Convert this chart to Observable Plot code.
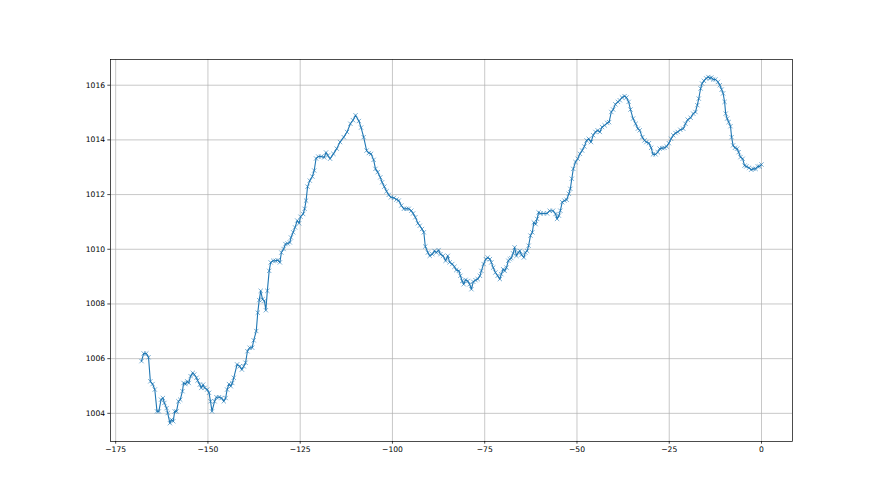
<!DOCTYPE html>
<html>
<head>
<meta charset="utf-8">
<script src="https://cdn.jsdelivr.net/npm/d3@7"></script>
<script src="https://cdn.jsdelivr.net/npm/@observablehq/plot@0.6"></script>
<style>
  html, body { margin: 0; padding: 0; background: white; }
</style>
</head>
<body>
<div id="chart"></div>
<script>
const hours = [
  -168.0,-167.4,-166.7,-166.1,-165.6,-165.0,-164.4,-163.8,-163.3,-162.7,
  -162.2,-161.8,-161.2,-160.9,-160.3,-159.9,-159.4,-159.0,-158.5,-158.0,
  -157.5,-156.9,-156.6,-156.1,-155.6,-155.2,-154.7,-154.1,-153.7,-153.1,
  -152.8,-152.2,-151.8,-151.3,-150.9,-150.2,-149.7,-149.3,-148.9,-148.2,
  -147.7,-147.0,-146.3,-145.7,-145.2,-144.8,-144.3,-143.8,-143.4,-143.0,
  -142.1,-141.4,-140.8,-140.3,-139.8,-139.3,-138.7,-138.0,-137.6,-136.9,
  -136.5,-136.1,-135.7,-135.2,-134.7,-134.3,-133.9,-133.4,-133.0,-132.3,
  -131.7,-131.1,-130.5,-130.1,-129.5,-129.0,-128.4,-127.8,-127.5,-126.9,
  -126.4,-125.8,-125.3,-124.9,-124.2,-123.8,-123.4,-123.0,-122.4,-121.7,
  -121.2,-120.7,-120.1,-119.3,-118.5,-118.0,-117.5,-116.9,-116.0,-115.1,
  -114.2,-113.2,-112.3,-111.4,-110.7,-110.0,-109.1,-108.5,-107.8,-107.0,
  -106.4,-105.8,-105.1,-104.6,-104.0,-103.3,-102.8,-102.2,-101.6,-101.0,
  -100.4,-99.6,-98.9,-98.3,-97.6,-96.9,-96.2,-95.6,-94.9,-94.4,
  -93.8,-93.1,-92.6,-92.0,-91.5,-91.1,-90.4,-89.9,-89.2,-88.6,
  -88.1,-87.5,-87.0,-86.3,-85.6,-85.0,-84.5,-83.8,-83.2,-82.7,
  -82.0,-81.6,-81.1,-80.7,-80.2,-79.6,-79.1,-78.6,-78.1,-77.5,
  -76.9,-76.3,-75.9,-75.3,-74.7,-74.2,-73.6,-73.2,-72.7,-72.1,
  -71.5,-70.9,-70.5,-70.0,-69.6,-69.1,-68.6,-68.2,-67.8,-67.3,
  -66.9,-66.4,-65.9,-65.5,-65.0,-64.4,-64.0,-63.5,-63.1,-62.6,
  -62.1,-61.7,-61.2,-60.8,-60.4,-59.9,-59.0,-58.1,-57.4,-56.5,
  -55.8,-55.4,-54.9,-54.5,-54.0,-53.4,-52.8,-52.2,-51.8,-51.4,
  -51.0,-50.4,-49.8,-49.2,-48.6,-48.0,-47.4,-46.8,-46.2,-45.6,
  -45.0,-44.4,-43.8,-43.2,-42.5,-41.8,-41.3,-40.7,-40.2,-39.6,
  -38.9,-38.4,-37.8,-37.1,-36.6,-36.0,-35.5,-34.8,-34.1,-33.5,
  -33.0,-32.3,-31.7,-31.2,-30.5,-29.9,-29.4,-28.7,-28.1,-27.6,
  -26.9,-26.3,-25.7,-25.1,-24.5,-23.9,-23.3,-22.7,-22.0,-21.2,
  -20.6,-20.0,-19.2,-18.5,-17.9,-17.4,-17.0,-16.5,-16.1,-15.6,
  -15.0,-14.4,-14.0,-13.6,-13.1,-12.5,-11.8,-11.3,-10.8,-10.4,
  -10.0,-9.7,-9.3,-8.9,-8.4,-8.1,-7.7,-7.2,-6.6,-6.2,
  -5.7,-5.1,-4.6,-4.1,-3.4,-2.8,-2.2,-1.6,-1.0,-0.5,
  0.0
];
const pressure = [
  1005.91,1006.19,1006.19,1006.05,1005.17,1005.07,1004.87,1004.07,1004.07,1004.50,
  1004.56,1004.38,1004.19,1004.01,1003.64,1003.77,1003.71,1004.07,1004.07,1004.44,
  1004.50,1004.81,1005.11,1005.07,1005.17,1005.11,1005.36,1005.48,1005.42,1005.30,
  1005.20,1005.05,1004.93,1005.05,1004.93,1004.87,1004.75,1004.44,1004.07,1004.44,
  1004.59,1004.59,1004.56,1004.44,1004.56,1004.87,1005.07,1004.99,1005.11,1005.30,
  1005.79,1005.72,1005.60,1005.72,1005.85,1006.27,1006.40,1006.40,1006.67,1007.01,
  1007.68,1008.14,1008.48,1008.17,1008.11,1007.77,1008.48,1009.21,1009.52,1009.58,
  1009.58,1009.60,1009.52,1009.88,1010.01,1010.19,1010.21,1010.25,1010.43,1010.62,
  1010.80,1011.05,1010.95,1011.19,1011.29,1011.48,1011.78,1012.29,1012.51,1012.66,
  1012.88,1013.32,1013.39,1013.39,1013.36,1013.54,1013.43,1013.31,1013.49,1013.68,
  1013.92,1014.10,1014.29,1014.59,1014.72,1014.90,1014.69,1014.45,1014.10,1013.61,
  1013.52,1013.49,1013.27,1012.94,1012.82,1012.63,1012.45,1012.29,1012.12,1011.99,
  1011.90,1011.88,1011.82,1011.78,1011.60,1011.48,1011.48,1011.48,1011.41,1011.31,
  1011.17,1010.95,1010.86,1010.74,1010.62,1010.10,1009.88,1009.76,1009.82,1009.94,
  1009.88,1009.97,1009.82,1009.76,1009.58,1009.76,1009.52,1009.46,1009.36,1009.24,
  1009.21,1009.03,1008.84,1008.72,1008.88,1008.84,1008.72,1008.54,1008.81,1008.87,
  1008.91,1009.03,1009.21,1009.46,1009.64,1009.70,1009.64,1009.52,1009.33,1009.15,
  1009.03,1008.91,1009.09,1009.27,1009.21,1009.33,1009.58,1009.64,1009.68,1009.85,
  1010.07,1009.76,1009.88,1009.94,1009.80,1009.70,1009.88,1009.94,1010.13,1010.50,
  1010.62,1010.98,1010.92,1011.11,1011.35,1011.31,1011.31,1011.31,1011.41,1011.41,
  1011.29,1011.11,1011.23,1011.41,1011.72,1011.78,1011.81,1012.03,1012.21,1012.58,
  1012.94,1013.19,1013.31,1013.49,1013.61,1013.76,1013.98,1014.04,1013.92,1014.17,
  1014.29,1014.35,1014.29,1014.47,1014.53,1014.62,1014.65,1015.02,1015.11,1015.30,
  1015.39,1015.45,1015.55,1015.60,1015.55,1015.39,1015.11,1014.78,1014.59,1014.41,
  1014.35,1014.10,1013.98,1013.92,1013.88,1013.71,1013.47,1013.47,1013.55,1013.68,
  1013.70,1013.71,1013.76,1013.88,1014.04,1014.17,1014.25,1014.29,1014.37,1014.41,
  1014.59,1014.74,1014.81,1014.96,1015.02,1015.27,1015.51,1015.88,1016.06,1016.16,
  1016.25,1016.30,1016.25,1016.28,1016.21,1016.21,1016.12,1016.00,1015.84,1015.70,
  1015.39,1014.96,1014.78,1014.65,1014.50,1014.10,1013.80,1013.71,1013.68,1013.55,
  1013.37,1013.31,1013.06,1013.03,1012.98,1012.91,1012.94,1012.94,1013.03,1013.03,
  1013.10
];
const xTicks = [-175, -150, -125, -100, -75, -50, -25, 0];
const yTicks = [1004, 1006, 1008, 1010, 1012, 1014, 1016];

const data = hours.map((h, i) => ({h, p: pressure[i]}));
const fmt = d => d < 0 ? "\u2212" + Math.abs(d) : String(d);

const chart = Plot.plot({
  width: 880,
  height: 495,
  marginLeft: 110,
  marginRight: 88,
  marginTop: 59,
  marginBottom: 54,
  style: {fontFamily: "DejaVu Sans", fontSize: "7.6px", background: "white", color: "black", overflow: "visible"},
  x: {domain: [-176.4, 8.4], label: null},
  y: {domain: [1002.97, 1016.94], label: null},
  marks: [
    Plot.gridX({ticks: xTicks, stroke: "#b0b0b0", strokeOpacity: 1, strokeWidth: 0.7}),
    Plot.gridY({ticks: yTicks, stroke: "#b0b0b0", strokeOpacity: 1, strokeWidth: 0.7}),
    Plot.line(data, {x: "h", y: "p", stroke: "#1f77b4", strokeWidth: 1.1}),
    Plot.dot(data, {x: "h", y: "p", symbol: "times", r: 2.1, stroke: "#1f77b4", strokeWidth: 0.6}),
    Plot.frame({stroke: "black", strokeWidth: 0.7}),
    Plot.axisX({ticks: xTicks, tickSize: 2.7, tickPadding: 2.7, tickFormat: fmt, label: null, stroke: "black", strokeWidth: 0.7}),
    Plot.axisY({ticks: yTicks, tickSize: 2.7, tickPadding: 2.7, tickFormat: d => String(d), label: null, stroke: "black", strokeWidth: 0.7})
  ]
});
document.getElementById("chart").appendChild(chart);
</script>
</body>
</html>
